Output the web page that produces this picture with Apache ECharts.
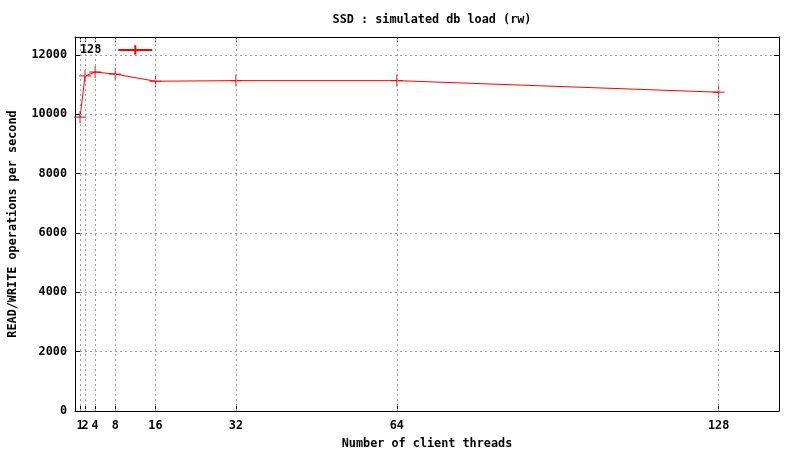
<!DOCTYPE html>
<html>
<head>
<meta charset="utf-8">
<script src="https://cdn.jsdelivr.net/npm/echarts@6/dist/echarts.min.js"></script>
<style>html,body{margin:0;padding:0;background:#fff}#c{width:800px;height:450px}</style>
</head>
<body>
<div id="c"></div>
<script>
const threads = [1, 2, 4, 8, 16, 32, 64, 128];
const opsPerSec = [9900, 11290, 11420, 11350, 11110, 11130, 11130, 10740];
const xTickValues = [1, 2, 4, 8, 16, 32, 64, 128];
const yTickValues = [0, 2000, 4000, 6000, 8000, 10000, 12000];
const seriesName = '128';

// labels 1 and 2 sit next to each other; split them over two axes so neither is dropped
const xLabelsA = xTickValues.filter(v => v !== 2);
const xLabelsB = xTickValues.filter(v => v === 2);

const FONT = '"DejaVu Sans Mono", "Liberation Mono", monospace';
const txt = { fontFamily: FONT, fontWeight: 'bold', fontSize: 11.8, color: '#000' };
const cross = 'path://M0,-6L0,6M-6,0L6,0';

const chart = echarts.init(document.getElementById('c'), null, { renderer: 'canvas' });
chart.setOption({
  animation: false,
  backgroundColor: '#fff',
  title: {
    text: 'SSD : simulated db load (rw)',
    left: 427, top: 9, textAlign: 'center',
    textStyle: Object.assign({}, txt)
  },
  legend: {
    data: [seriesName],
    left: 75, top: 39,
    align: 'right',
    itemWidth: 34, itemHeight: 12,
    textStyle: Object.assign({ padding: [0, 12, 0, 0] }, txt),
    selectedMode: false
  },
  grid: { left: 75, right: 21, top: 37, bottom: 39, outerBoundsMode: 'none', containLabel: false },
  xAxis: [{
    type: 'value', min: 0, max: 140, position: 'bottom',
    name: 'Number of client threads', nameLocation: 'middle', nameGap: 27,
    nameTextStyle: Object.assign({}, txt),
    axisLine: { show: true, onZero: false, lineStyle: { color: '#000', width: 1 } },
    axisTick: { show: true, inside: true, length: 5, customValues: xTickValues, lineStyle: { color: '#000' } },
    axisLabel: Object.assign({ customValues: xLabelsA, margin: 9, hideOverlap: false, formatter: v => String(v) }, txt),
    splitLine: { show: false }
  }, {
    type: 'value', min: 0, max: 140, position: 'top',
    axisLine: { show: true, onZero: false, lineStyle: { color: '#000', width: 1 } },
    axisTick: { show: true, inside: true, length: 5, customValues: xTickValues, lineStyle: { color: '#000' } },
    axisLabel: { show: false },
    splitLine: { show: false }
  }, {
    type: 'value', min: 0, max: 140, position: 'bottom', offset: 0,
    axisLine: { show: false, onZero: false },
    axisTick: { show: false },
    axisLabel: Object.assign({ customValues: xLabelsB, margin: 9, formatter: v => String(v) }, txt),
    splitLine: { show: false }
  }],
  yAxis: [{
    type: 'value', min: 0, max: 12600, interval: 2000, position: 'left',
    name: 'READ/WRITE operations per second', nameLocation: 'middle', nameGap: 56, nameRotate: 90,
    nameTextStyle: Object.assign({}, txt),
    axisLine: { show: true, onZero: false, lineStyle: { color: '#000', width: 1 } },
    axisTick: { show: true, inside: true, length: 5, customValues: yTickValues, lineStyle: { color: '#000' } },
    axisLabel: Object.assign({ customValues: yTickValues, margin: 8, formatter: v => String(v) }, txt),
    splitLine: { show: true, lineStyle: { color: '#a0a0a0', width: 1, type: [2, 3] } }
  }, {
    type: 'value', min: 0, max: 12600, interval: 2000, position: 'right',
    axisLine: { show: true, onZero: false, lineStyle: { color: '#000', width: 1 } },
    axisTick: { show: true, inside: true, length: 5, customValues: yTickValues, lineStyle: { color: '#000' } },
    axisLabel: { show: false },
    splitLine: { show: false }
  }],
  series: [{
    name: 'grid',
    type: 'line',
    data: [],
    z: 1,
    silent: true,
    markLine: {
      silent: true, symbol: 'none', label: { show: false },
      lineStyle: { color: '#a0a0a0', width: 1, type: [2, 3] },
      data: xTickValues.map(v => ({ xAxis: v }))
    }
  }, {
    name: seriesName,
    type: 'line',
    z: 3,
    data: threads.map((t, i) => [t, opsPerSec[i]]),
    symbol: cross,
    symbolSize: 12,
    showAllSymbol: true,
    lineStyle: { color: '#ff0000', width: 1 },
    itemStyle: { color: 'rgba(0,0,0,0)', borderColor: '#ff0000', borderWidth: 1 }
  }]
});
</script>
</body>
</html>
